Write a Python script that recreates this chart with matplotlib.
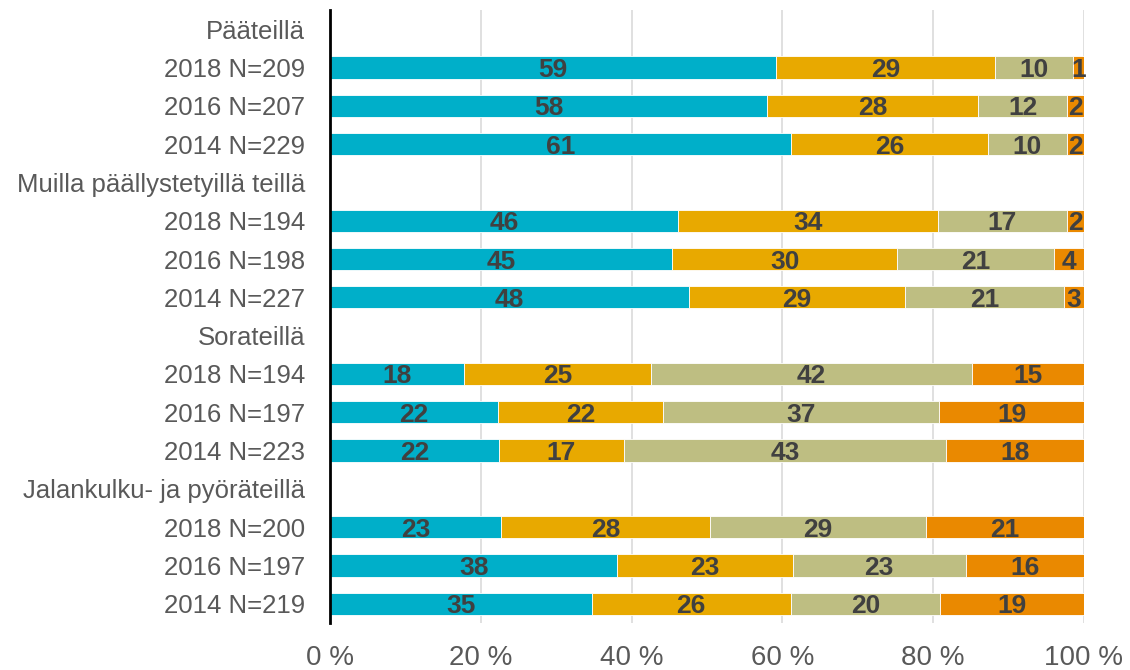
import matplotlib
matplotlib.use("Agg")
import matplotlib.pyplot as plt
import numpy as np

# Row labels (top to bottom); group headers have no bars
row_labels = ["Pääteillä", "2018 N=209", "2016 N=207", "2014 N=229",
              "Muilla päällystetyillä teillä", "2018 N=194", "2016 N=198", "2014 N=227",
              "Sorateillä", "2018 N=194", "2016 N=197", "2014 N=223",
              "Jalankulku- ja pyöräteillä", "2018 N=200", "2016 N=197", "2014 N=219"]
is_header = [True, False, False, False,
             True, False, False, False,
             True, False, False, False,
             True, False, False, False]

# Series values (percent) for bar rows only, in order
s1 = [59.2, 58.0, 61.1, 46.2, 45.4, 47.6, 17.8, 22.3, 22.4, 22.7, 38.1, 34.7]
s2 = [29.0, 28.0, 26.2, 34.4, 29.8, 28.7, 24.8, 21.9, 16.6, 27.7, 23.3, 26.4]
s3 = [10.4, 11.7, 10.4, 17.1, 20.8, 21.1, 42.5, 36.6, 42.7, 28.7, 22.9, 19.8]
s4 = [1.4, 2.3, 2.3, 2.3, 4.0, 2.6, 14.9, 19.2, 18.3, 20.9, 15.7, 19.1]
series = [s1, s2, s3, s4]
colors = ["#00AFC9", "#E8A900", "#BEBE82", "#EA8900"]

xticks = [0, 20, 40, 60, 80, 100]
xtick_labels = ["0 %", "20 %", "40 %", "60 %", "80 %", "100 %"]

plt.rcParams["font.family"] = ["Liberation Sans", "DejaVu Sans"]

fig = plt.figure(figsize=(11.3, 6.7), dpi=100)
ax = fig.add_axes([330 / 1130, 1 - 623 / 670, (1084 - 330) / 1130, (623 - 10) / 670])

n = len(row_labels)
ypos_all = np.arange(n)
bar_rows = [i for i in range(n) if not is_header[i]]

left = np.zeros(len(bar_rows))
for vals, col in zip(series, colors):
    vals = np.array(vals)
    bars = ax.barh(bar_rows, vals, left=left, height=0.58, color=col,
                   edgecolor="white", linewidth=0.6, zorder=3)
    texts = ax.bar_label(bars, labels=[f"{v:.0f}" for v in vals], label_type="center",
                         fontsize=19, fontweight="bold", color="#404040", zorder=4)
    for t in texts:
        t.set_verticalalignment("center_baseline")
    left += vals

ax.set_ylim(n - 0.5, -0.5)
ax.set_xlim(0, 100)
ax.set_yticks(ypos_all)
ax.set_yticklabels(row_labels, fontsize=18.5, color="#595959")
ax.set_xticks(xticks)
ax.set_xticklabels(xtick_labels, fontsize=20, color="#595959")
ax.tick_params(axis="y", length=0, pad=18)
ax.tick_params(axis="x", length=0, pad=16)

ax.grid(axis="x", color="#DDDDDD", linewidth=1.3, zorder=0)
ax.set_axisbelow(True)
for side in ["top", "right", "bottom"]:
    ax.spines[side].set_visible(False)
ax.spines["left"].set_color("black")
ax.spines["left"].set_linewidth(2)
ax.spines["left"].set_zorder(5)

fig.savefig("out.png", dpi=100)
